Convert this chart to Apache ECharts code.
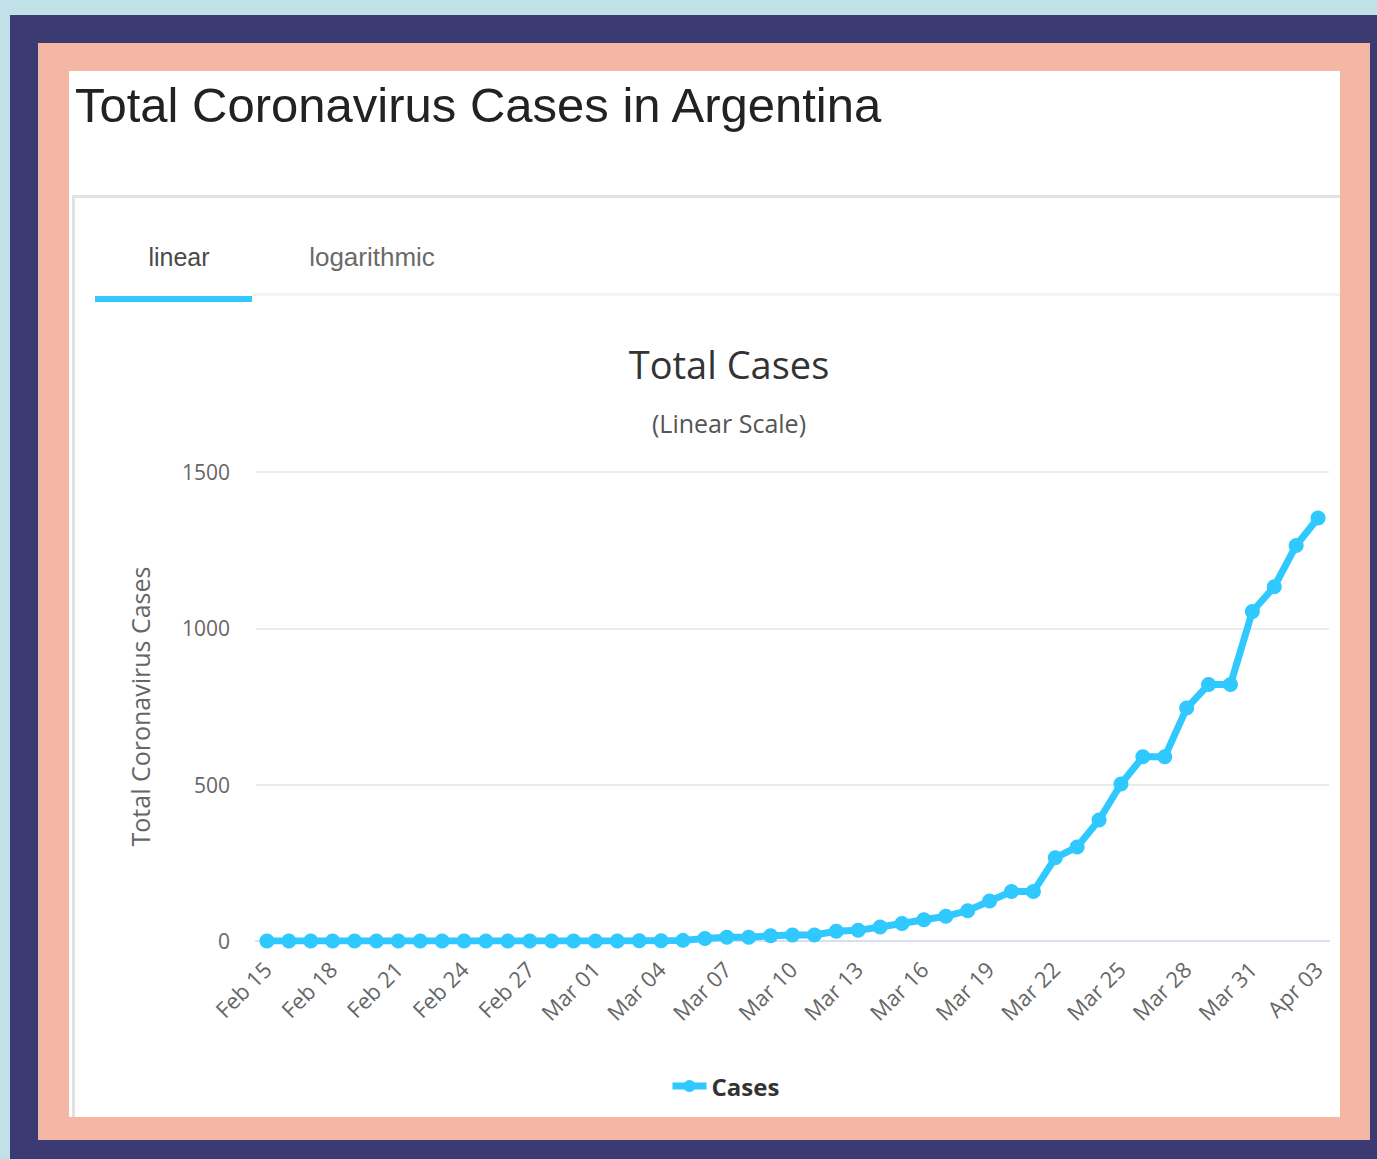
<!DOCTYPE html>
<html>
<head>
<meta charset="utf-8">
<script src="https://cdn.jsdelivr.net/npm/echarts@6/dist/echarts.min.js"></script>
<style>
html,body{margin:0;padding:0;background:#c1e1e9;}
#c{width:1377px;height:1159px;}
</style>
</head>
<body>
<div id="c"></div>
<script>
const dates = ['Feb 15','Feb 16','Feb 17','Feb 18','Feb 19','Feb 20','Feb 21','Feb 22','Feb 23','Feb 24','Feb 25','Feb 26','Feb 27','Feb 28','Feb 29',
  'Mar 01','Mar 02','Mar 03','Mar 04','Mar 05','Mar 06','Mar 07','Mar 08','Mar 09','Mar 10','Mar 11','Mar 12','Mar 13','Mar 14','Mar 15','Mar 16',
  'Mar 17','Mar 18','Mar 19','Mar 20','Mar 21','Mar 22','Mar 23','Mar 24','Mar 25','Mar 26','Mar 27','Mar 28','Mar 29','Mar 30','Mar 31',
  'Apr 01','Apr 02','Apr 03'];
const cases = [0,0,0,0,0,0,0,0,0,0,0,0,0,0,0,
  0,0,1,1,2,8,12,12,17,19,19,31,34,45,56,68,
  79,97,128,158,158,266,301,387,502,589,589,745,820,820,1054,
  1133,1265,1353];
const yTicks = [0, 500, 1000, 1500];

const pageTitle = 'Total Coronavirus Cases in Argentina';
const tabLabels = ['linear', 'logarithmic'];
const chartTitle = 'Total Cases';
const chartSubtitle = '(Linear Scale)';
const yAxisName = 'Total Coronavirus Cases';
const seriesName = 'Cases';

const chart = echarts.init(document.getElementById('c'), null, {renderer: 'svg'});
const option = {
  animation: false,
  backgroundColor: '#c1e1e9',
  graphic: [
    {type: 'rect', shape: {x: 10, y: 15, width: 1367, height: 1144}, style: {fill: '#3b3a73'}, z: -10},
    {type: 'rect', shape: {x: 38, y: 43, width: 1332, height: 1097}, style: {fill: '#f4b7a3'}, z: -9},
    {type: 'rect', shape: {x: 69, y: 71, width: 1271, height: 1046}, style: {fill: '#ffffff'}, z: -8},
    {type: 'rect', shape: {x: 72, y: 195, width: 1268, height: 3}, style: {fill: '#e2e2e2'}, z: -7},
    {type: 'rect', shape: {x: 72, y: 195, width: 3, height: 922}, style: {fill: '#e2e2e2'}, z: -7},
    {type: 'rect', shape: {x: 252, y: 293, width: 1088, height: 3}, style: {fill: '#f3f3f3'}, z: -7},
    {type: 'rect', shape: {x: 95, y: 296, width: 157, height: 6}, style: {fill: '#33c9ff'}, z: -7},
    {type: 'text', x: 75, y: 80, z: 5,
      style: {text: pageTitle, font: '49px "Liberation Sans", Arial, sans-serif', fill: '#222222'}},
    {type: 'text', x: 179, y: 257, z: 5,
      style: {text: tabLabels[0], font: '25px "Liberation Sans", Arial, sans-serif', fill: '#4a4a4a', textAlign: 'center', textVerticalAlign: 'middle'}},
    {type: 'text', x: 372, y: 257, z: 5,
      style: {text: tabLabels[1], font: '26px "Liberation Sans", Arial, sans-serif', fill: '#6a6a6a', textAlign: 'center', textVerticalAlign: 'middle'}}
  ],
  title: {
    text: chartTitle,
    subtext: chartSubtitle,
    left: 724,
    top: 340,
    textAlign: 'center',
    itemGap: 27,
    textStyle: {fontFamily: '"Open Sans", sans-serif', fontSize: 38, fontWeight: 'normal', color: '#333333'},
    subtextStyle: {fontFamily: '"Open Sans", sans-serif', fontSize: 25, color: '#555555'}
  },
  legend: {
    data: [seriesName],
    left: 664,
    top: 1069,
    itemWidth: 34,
    itemHeight: 15,
    itemGap: 10,
    lineStyle: {width: 7},
    textStyle: {fontFamily: '"Open Sans", sans-serif', fontSize: 24, fontWeight: 'bold', color: '#333333'}
  },
  grid: {left: 256, right: 48, top: 472, bottom: 218, containLabel: false},
  xAxis: {
    type: 'category',
    data: dates,
    boundaryGap: true,
    axisLine: {lineStyle: {color: '#d8dff0', width: 2}},
    axisTick: {show: false},
    axisLabel: {
      interval: 2,
      rotate: 45,
      margin: 24,
      fontFamily: '"Open Sans", sans-serif',
      fontSize: 22,
      color: '#666666'
    }
  },
  yAxis: {
    type: 'value',
    min: yTicks[0],
    max: yTicks[yTicks.length - 1],
    interval: yTicks[1] - yTicks[0],
    name: yAxisName,
    nameLocation: 'middle',
    nameGap: 104,
    nameRotate: 90,
    nameTextStyle: {fontFamily: '"Open Sans", sans-serif', fontSize: 25, color: '#666666'},
    axisLine: {show: false},
    axisTick: {show: false},
    axisLabel: {margin: 26, fontFamily: '"Open Sans", sans-serif', fontSize: 21, color: '#666666',
      formatter: function (v) { return String(v); }},
    splitLine: {lineStyle: {color: '#ebebeb', width: 2}}
  },
  series: [{
    name: seriesName,
    type: 'line',
    data: cases,
    symbol: 'circle',
    symbolSize: 15,
    showAllSymbol: true,
    lineStyle: {width: 7, color: '#2fc8ff'},
    itemStyle: {color: '#2fc8ff'}
  }]
};
chart.setOption(option);
</script>
</body>
</html>
